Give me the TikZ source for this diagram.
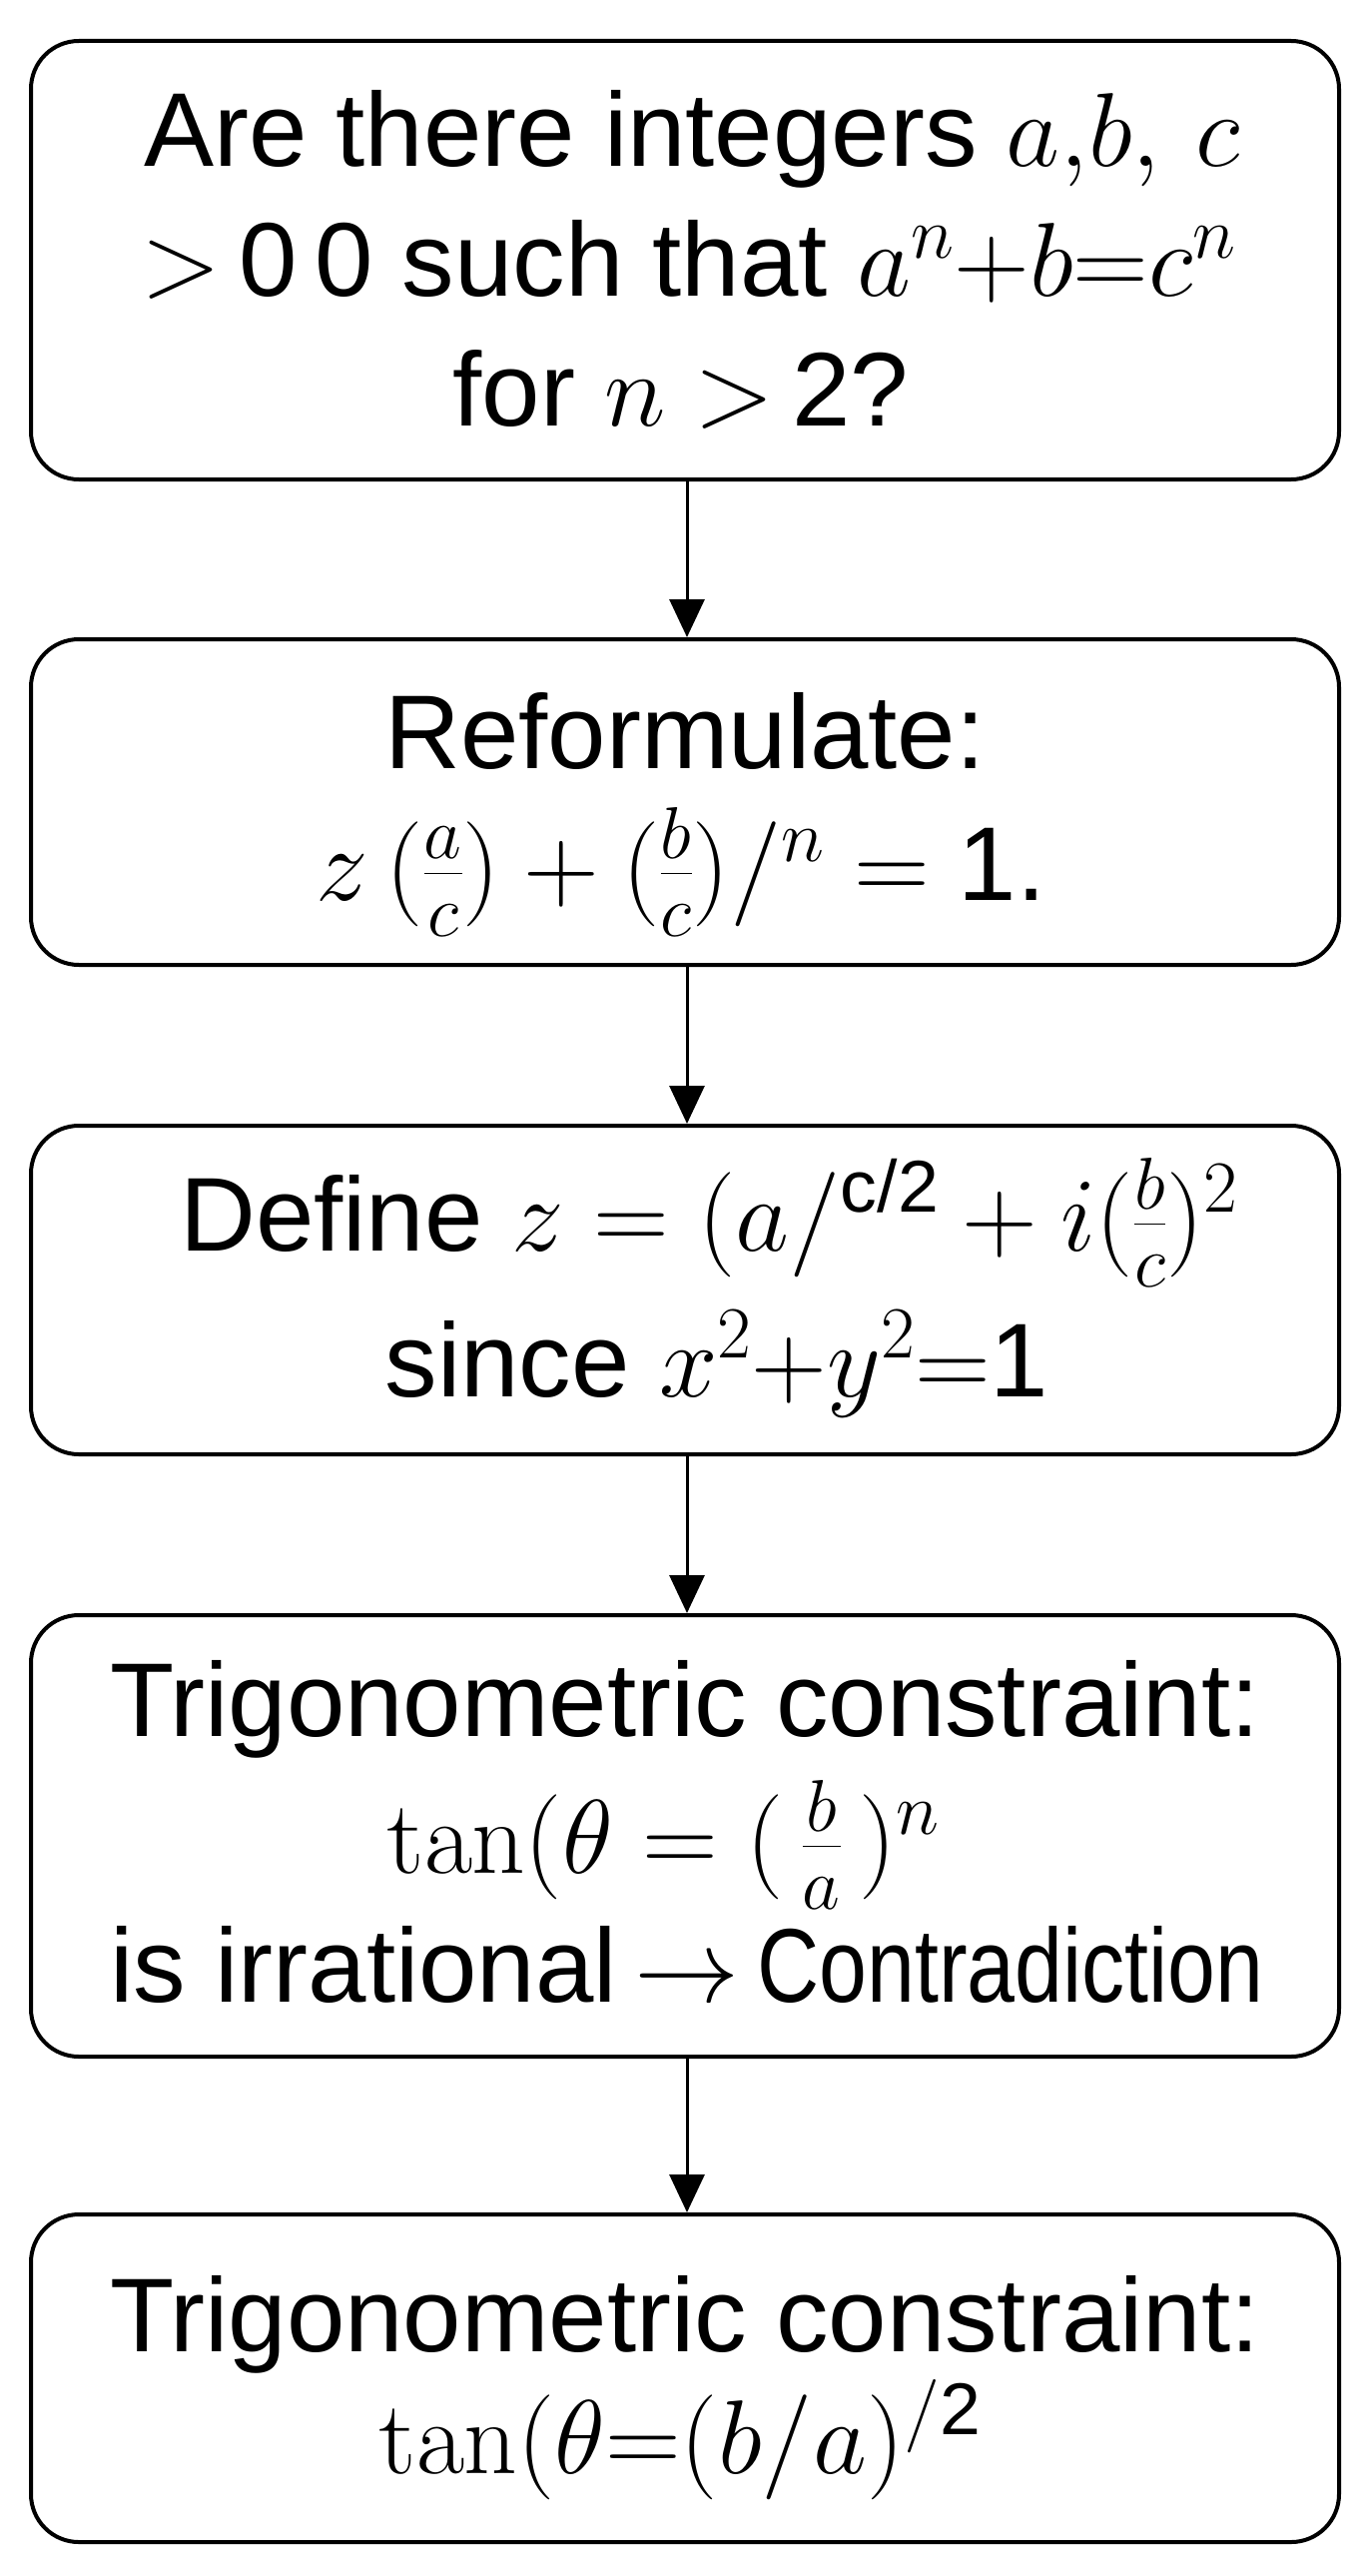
\documentclass[tikz,border=0pt]{standalone}
\usepackage{fix-cm}
\usepackage{amsmath}
\usepackage[no-math]{fontspec}
\setmainfont{Liberation Sans}
\usetikzlibrary{arrows.meta}
\begin{document}
\begin{tikzpicture}[x=1pt,y=-1pt,
  box/.style={draw,line width=4pt,rounded corners=48pt,minimum width=1310pt,inner sep=0pt},
  txt/.style={anchor=base,inner sep=0pt,font=\fontsize{105}{126}\selectfont},
  conn/.style={line width=3pt,-{Triangle[length=38pt,width=35pt]}}]
\useasboundingbox (0,0) rectangle (1366,2579);
% boxes
\node[box,minimum height=439pt] (b1) at (686,260.5) {};
\node[box,minimum height=326pt] (b2) at (686,803) {};
\node[box,minimum height=329pt] (b3) at (686,1291.5) {};
\node[box,minimum height=442pt] (b4) at (686,1838) {};
\node[box,minimum height=328pt] (b5) at (686,2381) {};
% texts
\node[txt] (t11) at (693,167) {Are there integers $a{,}b,\,c$};
\node[txt] (t12) at (690,297) {$>$\,0\,0 such that $a^n{+}b{=}c^n$};
\node[txt] (t13) at (682,426) {for $n$ $>$\,2?};
\node[txt] (t21) at (686,769) {Reformulate:};
\node[txt] (t22) at (682,901) {$z\,(\tfrac{a}{c})+(\tfrac{b}{c})/^{n}=$ 1.};
\node[txt] (t31) at (710,1252) {Define $z=(a/^{\text{c/2}}+i(\tfrac{b}{c})^2$};
\node[txt] (t32) at (718,1398) {since $x^2{+}y^2{=}$1};
\node[txt] (t41) at (686,1738) {Trigonometric constraint:};
\node[txt] (t42) at (664,1875) {$\tan(\theta=(\,\tfrac{b}{a}\,)^n$};
\node[txt] (t43) at (688,2004) {is irrational\,$\rightarrow$\,\scalebox{0.82}[1]{Contradiction}};
\node[txt] (t51) at (686,2354) {Trigonometric constraint:};
\node[txt] (t52) at (681,2476) {$\tan(\theta{=}(b/a)^{/\text{2}}$};
% connectors
\draw[conn] (b1.south -| 688,0) -- (b2.north -| 688,0);
\draw[conn] (b2.south -| 688,0) -- (b3.north -| 688,0);
\draw[conn] (b3.south -| 688,0) -- (b4.north -| 688,0);
\draw[conn] (b4.south -| 688,0) -- (b5.north -| 688,0);
\end{tikzpicture}
\end{document}
